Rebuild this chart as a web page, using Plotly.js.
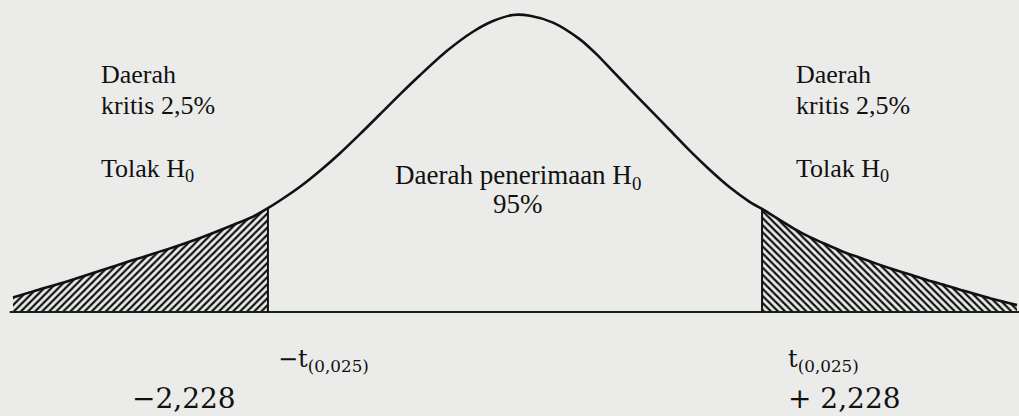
<!DOCTYPE html>
<html>
<head>
<meta charset="utf-8">
<script src="https://cdn.plot.ly/plotly-3.0.1.min.js"></script>
<style>html,body{margin:0;padding:0;background:#ebebea;}#chart{width:1019px;height:416px;}</style>
</head>
<body>
<div id="chart"></div>
<script>
// t values along the curve
const curveT = [-4.527, -4.346, -4.040, -3.742, -3.445, -3.138, -2.840, -2.543, -2.362, -2.228,
                -2.119, -1.939, -1.758, -1.578, -1.398, -1.217, -1.037, -0.857, -0.613, -0.379, -0.198, -0.018,
                0.135, 0.343, 0.586, 0.739, 0.884, 1.037, 1.217, 1.398, 1.578, 1.758, 1.939, 2.119, 2.228,
                2.362, 2.507, 2.660, 2.813, 2.958, 3.111, 3.264, 3.409, 3.562, 3.715, 3.859, 4.013, 4.166, 4.310, 4.527];
// curve heights (density-like units)
const curveY = [0.019, 0.027, 0.040, 0.054, 0.068, 0.082, 0.097, 0.114, 0.125, 0.136,
                0.146, 0.164, 0.185, 0.208, 0.233, 0.259, 0.285, 0.310, 0.342, 0.367, 0.381, 0.389,
                0.388, 0.379, 0.357, 0.337, 0.315, 0.292, 0.265, 0.238, 0.211, 0.186, 0.163, 0.144, 0.135,
                0.123, 0.110, 0.098, 0.088, 0.079, 0.071, 0.063, 0.056, 0.049, 0.042, 0.036, 0.029, 0.023, 0.017, 0.009];
const critValue = 2.228;
const critLabels = ["\u2212t<sub>(0,025)</sub>", "t<sub>(0,025)</sub>"];
const critValueLabels = ["\u22122,228", "+ 2,228"];
const sideLines = ["Daerah", "kritis 2,5%", "Tolak H<sub>0</sub>"];
const centerLines = ["Daerah penerimaan H<sub>0</sub>", "95%"];

const BG = '#ebebea';
const W = 1019, H = 416;
const px = v => v / W;
const py = v => 1 - v / H;

const leftX = [], leftY = [], rightX = [], rightY = [];
curveT.forEach((t, i) => {
  if (t <= -critValue) { leftX.push(t); leftY.push(curveY[i]); }
  if (t >= critValue) { rightX.push(t); rightY.push(curveY[i]); }
});
const yLo = curveY[curveT.indexOf(-critValue)];
const yHi = curveY[curveT.indexOf(critValue)];

const pattern = shape => ({shape: shape, fgcolor: '#111111', bgcolor: BG, size: 5, solidity: 0.45, fillmode: 'replace'});

const traces = [
  {x: leftX, y: leftY, mode: 'lines', line: {width: 0, shape: 'spline', smoothing: 0.8}, fill: 'tozeroy', fillpattern: pattern('/'), fillcolor: BG, hoverinfo: 'skip'},
  {x: rightX, y: rightY, mode: 'lines', line: {width: 0, shape: 'spline', smoothing: 0.8}, fill: 'tozeroy', fillpattern: pattern('\\'), fillcolor: BG, hoverinfo: 'skip'},
  {x: [curveT[0] - 0.03, curveT[curveT.length - 1] + 0.2], y: [0, 0], mode: 'lines', line: {color: '#14231a', width: 2}},
  {x: [-critValue, -critValue, null, critValue, critValue], y: [0, yLo, null, 0, yHi], mode: 'lines', line: {color: '#111', width: 2}},
  {x: curveT, y: curveY, mode: 'lines', line: {color: '#111', width: 2.6, shape: 'spline', smoothing: 0.8}}
];

const serif = {family: 'Liberation Serif', size: 26, color: '#111'};
const serifC = {family: 'Liberation Serif', size: 27, color: '#111'};
const cent = {family: 'DejaVu Serif', size: 24, color: '#111'};
const big = {family: 'DejaVu Serif', size: 28, color: '#111'};

const ann = [];
const sideY = [74, 105, 170];
[99, 794].forEach(x0 => {
  sideLines.forEach((s, i) => ann.push({xref: 'paper', yref: 'paper', x: px(x0), y: py(sideY[i]), xanchor: 'left', yanchor: 'middle', text: s, showarrow: false, font: serif}));
});
ann.push({xref: 'paper', yref: 'paper', x: px(518), y: py(177), xanchor: 'center', yanchor: 'middle', text: centerLines[0], showarrow: false, font: serifC});
ann.push({xref: 'paper', yref: 'paper', x: px(518), y: py(204), xanchor: 'center', yanchor: 'middle', text: centerLines[1], showarrow: false, font: serifC});
ann.push({xref: 'paper', yref: 'paper', x: px(276), y: py(360), xanchor: 'left', yanchor: 'middle', text: critLabels[0], showarrow: false, font: cent});
ann.push({xref: 'paper', yref: 'paper', x: px(786), y: py(360), xanchor: 'left', yanchor: 'middle', text: critLabels[1], showarrow: false, font: cent});
ann.push({xref: 'paper', yref: 'paper', x: px(130), y: py(398), xanchor: 'left', yanchor: 'middle', text: critValueLabels[0], showarrow: false, font: big});
ann.push({xref: 'paper', yref: 'paper', x: px(786), y: py(398), xanchor: 'left', yanchor: 'middle', text: critValueLabels[1], showarrow: false, font: big});

const layout = {
  width: W, height: H,
  margin: {l: 0, r: 0, t: 0, b: 0},
  paper_bgcolor: BG, plot_bgcolor: BG,
  showlegend: false,
  xaxis: {range: [-4.644, 4.545], visible: false, fixedrange: true},
  yaxis: {range: [-0.1362, 0.4086], visible: false, fixedrange: true},
  annotations: ann
};
Plotly.newPlot('chart', traces, layout, {displayModeBar: false, staticPlot: true});
</script>
</body>
</html>
